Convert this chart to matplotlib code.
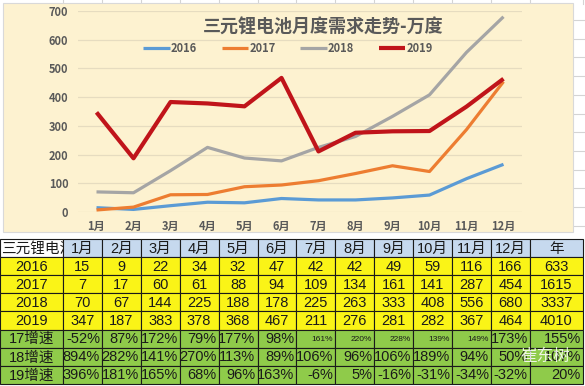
import numpy as np
import matplotlib.pyplot as plt
from matplotlib.patches import Rectangle

months = ['1月', '2月', '3月', '4月', '5月', '6月', '7月', '8月', '9月', '10月', '11月', '12月']
years = ['2016', '2017', '2018', '2019']
v2016 = [15, 9, 22, 34, 32, 47, 42, 42, 49, 59, 116, 166]
v2017 = [7, 17, 60, 61, 88, 94, 109, 134, 161, 141, 287, 454]
v2018 = [70, 67, 144, 225, 188, 178, 225, 263, 333, 408, 556, 680]
v2019 = [347, 187, 383, 378, 368, 467, 211, 276, 281, 282, 367, 464]
totals = [633, 1615, 3337, 4010]
g17 = ['-52%', '87%', '172%', '79%', '177%', '98%', '161%', '220%', '228%', '139%', '149%', '173%', '155%']
g18 = ['894%', '282%', '141%', '270%', '113%', '89%', '106%', '96%', '106%', '189%', '94%', '50%', '107%']
g19 = ['396%', '181%', '165%', '68%', '96%', '163%', '-6%', '5%', '-16%', '-31%', '-34%', '-32%', '20%']
growth_labels = ['17增速', '18增速', '19增速']

colors = ['#5B9BD5', '#ED7D31', '#A5A5A5', '#C0141A']
cjk = ['Noto Sans CJK SC', 'DejaVu Sans']
tbl_font = ['Liberation Sans', 'Noto Sans CJK SC']

W, H = 585, 386
fig = plt.figure(figsize=(W/100, H/100), dpi=100)
fig.patch.set_facecolor('white')

# overlay axes in pixel coords for background, table and spreadsheet lines
bg = fig.add_axes([0, 0, 1, 1])
bg.set_xlim(0, W)
bg.set_ylim(H, 0)
bg.axis('off')

# faint spreadsheet grid behind everything
col_edges = [0, 63] + [63 + 38.9*(i+1) for i in range(12)] + [583]
for x in col_edges[1:]:
    bg.plot([x, x], [0, 4], color='#D4D4D4', lw=0.8, zorder=0)
for y in np.arange(20, 235, 18.7):
    bg.plot([574, W], [y, y], color='#D4D4D4', lw=0.8, zorder=0)

# chart box
bg.add_patch(Rectangle((3, 3), 570, 229, facecolor='#FDF2D0', edgecolor='#D9D9D9', lw=0.8, zorder=1))

# table
row_h = 18.15
hdr_top, hdr_bot = 239, 257
green = '#8FCB4A'
yellow = '#FAF417'

def cell(x0, x1, y0, y1, fc, txt, size=10.5, ha='center', z=2):
    bg.add_patch(Rectangle((x0, y0), x1-x0, y1-y0, facecolor=fc, edgecolor='#1A1A1A', lw=0.8, zorder=z))
    if ha == 'center':
        tx = (x0+x1)/2
    elif ha == 'left':
        tx = x0 + 1
    else:
        tx = x1 - 2
    bg.text(tx, (y0+y1)/2 + 0.5, txt, ha=ha, va='center', fontsize=size,
            family=tbl_font, color='#1A1A1A', zorder=z + 0.5)

# header (first label runs under the month cells, like a clipped excel cell)
cell(0, 63, hdr_top, hdr_bot, 'white', '三元锂电池', ha='left', z=1.2)
for i, m in enumerate(months):
    cell(col_edges[i+1], col_edges[i+2], hdr_top, hdr_bot, '#C6D9EE', m)
cell(col_edges[13], col_edges[14], hdr_top, hdr_bot, '#C6D9EE', '年')

data_rows = [v2016, v2017, v2018, v2019]
for r, (yr, vals) in enumerate(zip(years, data_rows)):
    y0 = hdr_bot + r*row_h
    cell(0, 63, y0, y0+row_h, yellow, yr)
    for i, v in enumerate(vals + [totals[r]]):
        cell(col_edges[i+1], col_edges[i+2], y0, y0+row_h, yellow, str(v))

for r, (lab, vals) in enumerate(zip(growth_labels, [g17, g18, g19])):
    y0 = hdr_bot + (4+r)*row_h
    cell(0, 63, y0, y0+row_h, green, lab)
    for i, v in enumerate(vals):
        sz = 10.5
        if r == 0 and 6 <= i <= 10:
            sz = 6
        cell(col_edges[i+1], col_edges[i+2], y0, y0+row_h, green, v, size=sz, ha='right')

# watermark
bg.text(545, 356, '崔东树', ha='center', va='center', fontsize=12, family=cjk,
        color='white', alpha=0.85, zorder=4)

# line chart
ax = fig.add_axes([78/W, 1 - 212/H, (522-78)/W, 201/H])
ax.set_facecolor('none')
x = np.arange(1, 13)
for vals, c, yr in zip(data_rows, colors, years):
    lw = 3.0 if yr == '2019' else 2.3
    ax.plot(x, vals, color=c, lw=lw, label=yr, solid_capstyle='butt', zorder=3)
ax.set_xlim(0.5, 12.5)
ax.set_ylim(0, 700)
ax.set_yticks(range(0, 701, 100))
ax.set_xticks(x)
ax.set_xticklabels(months)
ax.grid(axis='y', color='#E6DCC0', lw=0.9)
ax.set_axisbelow(True)
for s in ax.spines.values():
    s.set_visible(False)
ax.tick_params(length=0, labelsize=8, labelcolor='#595959')
ax.tick_params(axis='y', pad=7)
ax.tick_params(axis='x', pad=6)
for lab in ax.get_xticklabels() + ax.get_yticklabels():
    lab.set_family(cjk)
    lab.set_fontweight('bold')

fig.text(323/W, 1 - 27/H, '三元锂电池月度需求走势-万度', ha='center', va='center',
         fontsize=13, fontweight='bold', family=cjk, color='#595959')
leg = ax.legend(ncol=4, loc='center', bbox_to_anchor=(288/W, 1 - 48/H), bbox_transform=fig.transFigure,
                frameon=False, handlelength=2.4, handletextpad=0.1, columnspacing=2.2,
                prop={'family': cjk, 'weight': 'bold', 'size': 8})
for t in leg.get_texts():
    t.set_color('#595959')

fig.savefig('out.png', dpi=100)
